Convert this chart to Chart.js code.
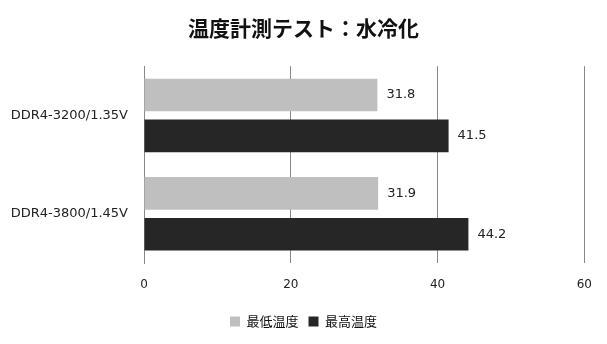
<!DOCTYPE html>
<html><head><meta charset="utf-8">
<script src="https://cdn.jsdelivr.net/npm/chart.js@4"></script>
<style>html,body{margin:0;padding:0;background:#fff}</style>
</head><body>
<canvas id="c" width="607" height="344"></canvas>
<script>
const title = "温度計測テスト：水冷化";
const categories = ["DDR4-3200/1.35V", "DDR4-3800/1.45V"];
const seriesNames = ["最低温度", "最高温度"];
const minTemps = [31.8, 31.9];
const maxTemps = [41.5, 44.2];
const xTicks = [0, 20, 40, 60];

const FONT = "'DejaVu Sans', Verdana, sans-serif";
const valueLabels = {
  id: 'valueLabels',
  afterDatasetsDraw(chart) {
    const ctx = chart.ctx;
    ctx.save();
    ctx.font = "13px " + FONT;
    ctx.fillStyle = "#222";
    ctx.textAlign = "left";
    ctx.textBaseline = "middle";
    chart.data.datasets.forEach((ds, i) => {
      chart.getDatasetMeta(i).data.forEach((el, j) => {
        ctx.fillText(ds.data[j].toFixed(1), el.x + 9, el.y);
      });
    });
    ctx.restore();
  }
};
// centre title and legend on the full canvas width
const centerBlocks = {
  id: 'centerBlocks',
  afterLayout(chart) {
    [chart.titleBlock, chart.legend].forEach(b => {
      if (b) { b.left = 0; b.right = chart.width; b.width = chart.width; }
    });
  }
};

new Chart(document.getElementById('c'), {
  type: 'bar',
  data: {
    labels: categories,
    datasets: [
      { label: seriesNames[0], data: minTemps, backgroundColor: '#bfbfbf', categoryPercentage: 0.83, barPercentage: 0.8 },
      { label: seriesNames[1], data: maxTemps, backgroundColor: '#262626', categoryPercentage: 0.83, barPercentage: 0.8 }
    ]
  },
  options: {
    indexAxis: 'y',
    responsive: false,
    animation: false,
    layout: { padding: { left: 2, right: 22, top: 0, bottom: 6 } },
    plugins: {
      title: { display: true, text: title, color: '#111', font: { family: "'Noto Sans CJK JP', sans-serif", size: 21, weight: 'bold' }, padding: { top: 15, bottom: 26 } },
      legend: { position: 'bottom', labels: { color: '#111', boxWidth: 10, boxHeight: 10, padding: 10, font: { family: "'Noto Sans CJK JP', sans-serif", size: 13 } } },
      tooltip: { enabled: false }
    },
    scales: {
      x: {
        min: 0, max: 60,
        afterBuildTicks(s) { s.ticks = xTicks.map(v => ({ value: v })); },
        afterFit(s) { s.height = 42; },
        grid: { color: '#888', drawTicks: false, lineWidth: 1 },
        border: { display: false },
        ticks: { padding: 15, color: '#222', font: { family: FONT, size: 12 } }
      },
      y: {
        afterFit(s) { s.width = 142; },
        grid: { display: false, drawTicks: false },
        border: { display: true, color: '#888' },
        ticks: { padding: 16, color: '#222', font: { family: FONT, size: 13 } }
      }
    }
  },
  plugins: [valueLabels, centerBlocks]
});
</script>
</body></html>
